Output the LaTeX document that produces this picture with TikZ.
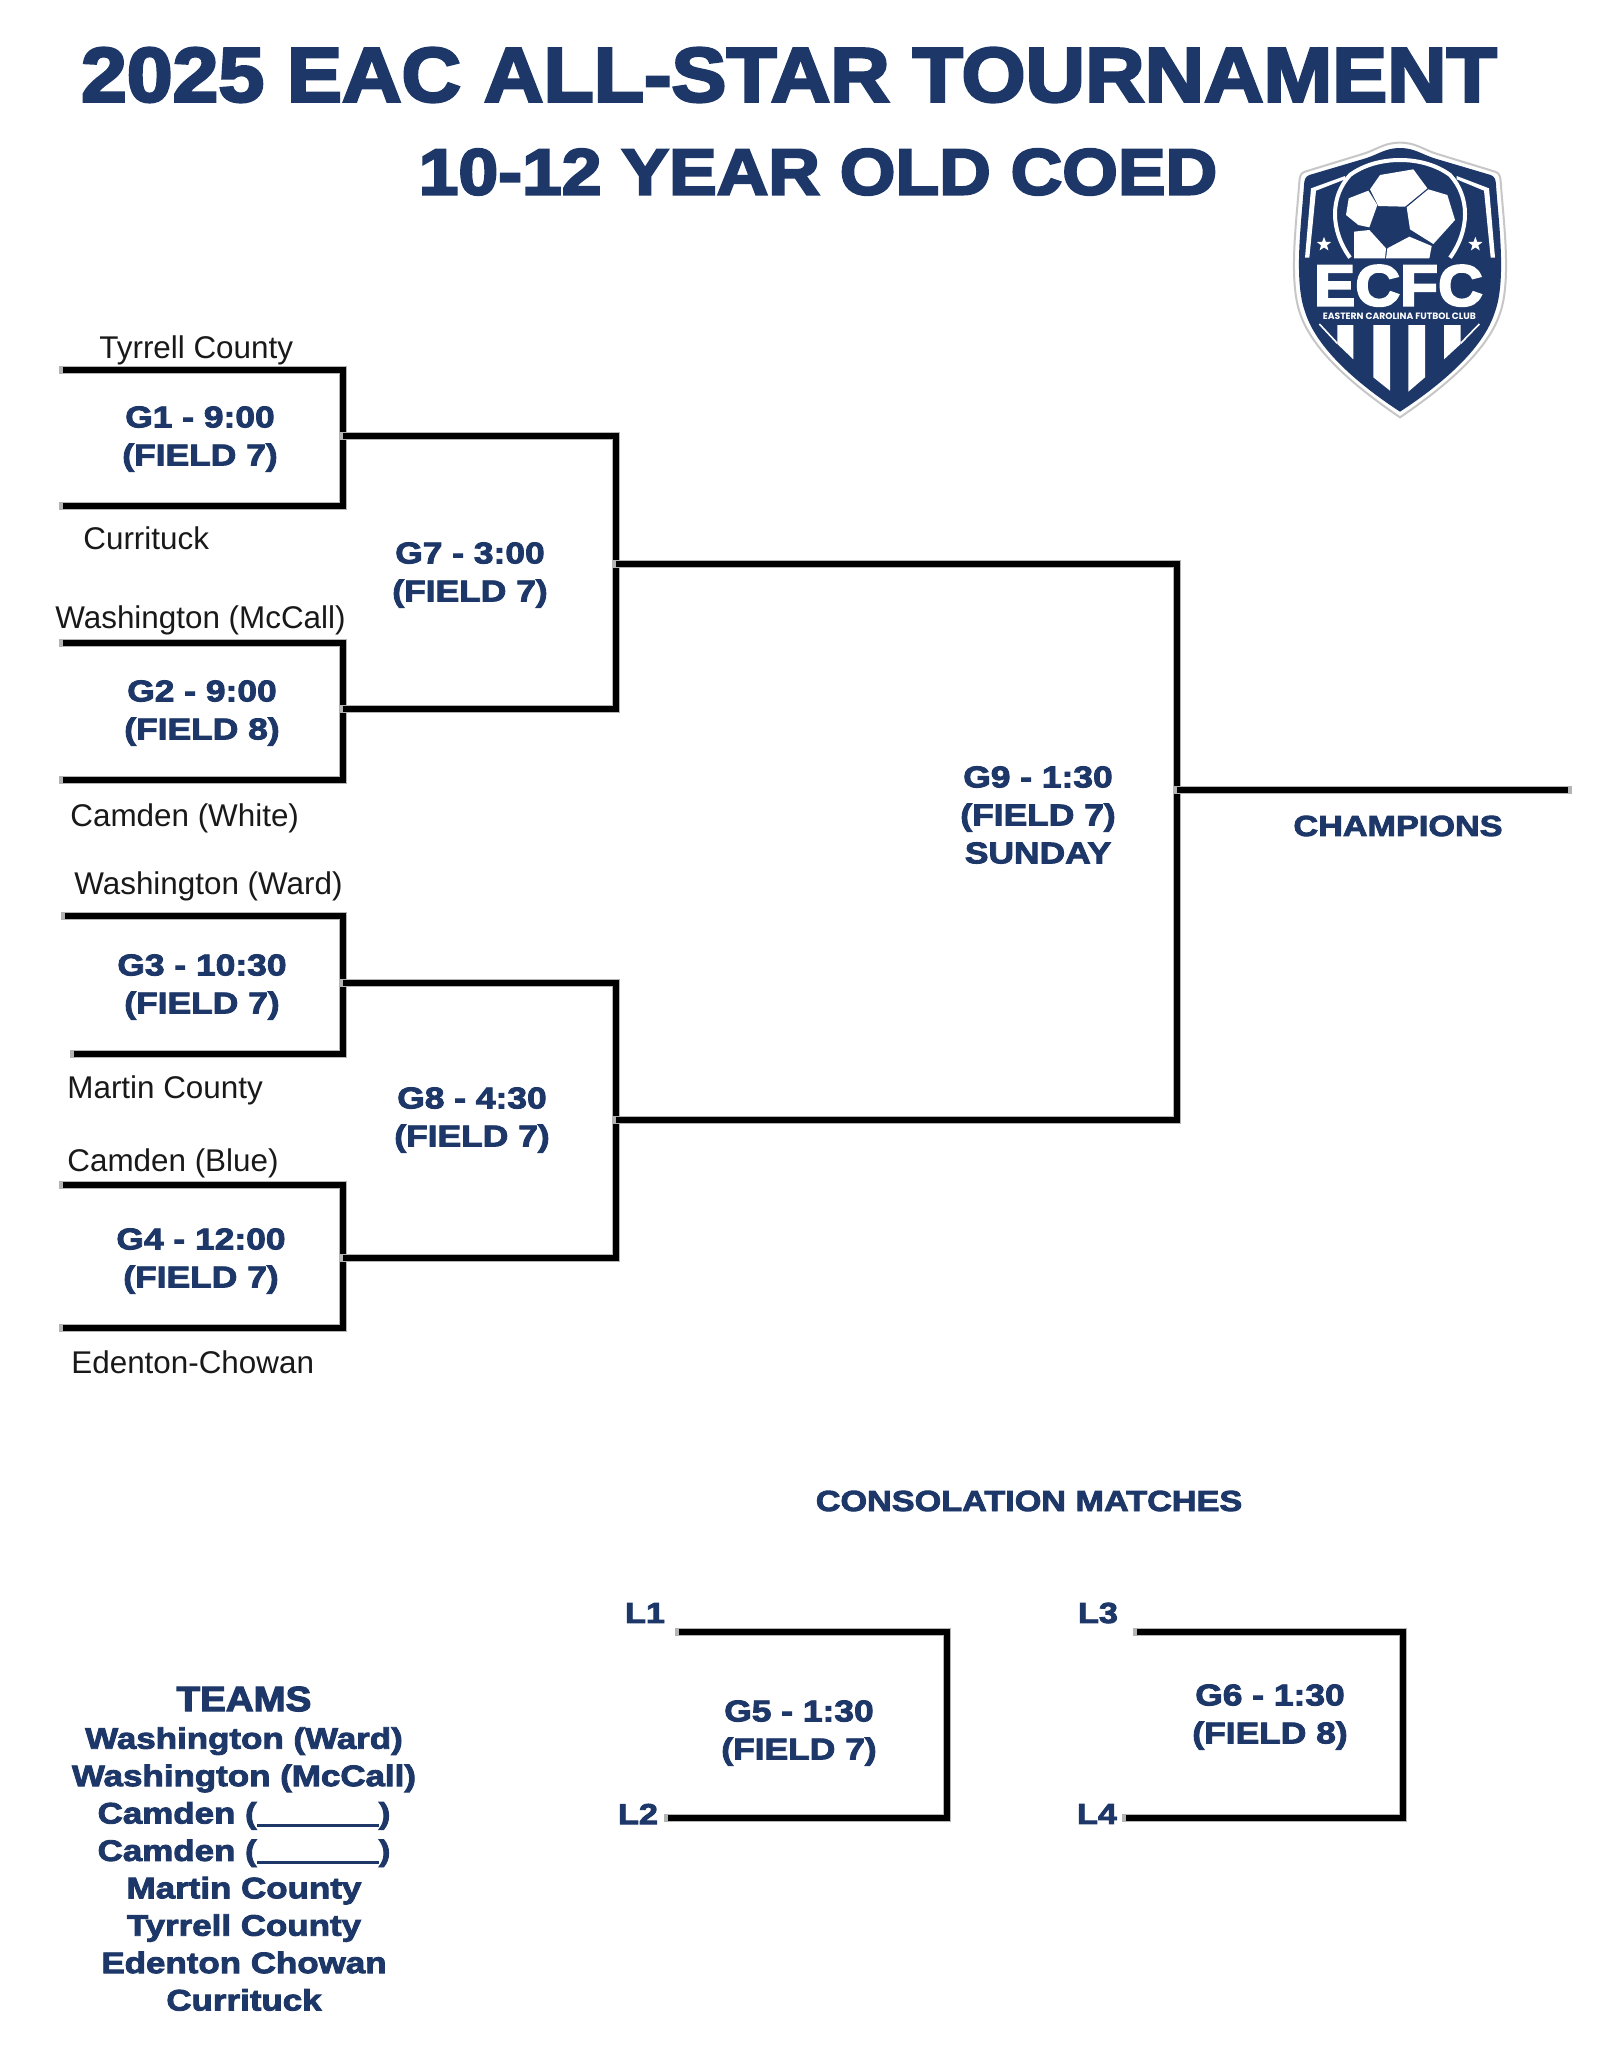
\documentclass[tikz,border=0pt]{standalone}
\usepackage{fontspec}
\setmainfont{Liberation Sans}
\usetikzlibrary{calc,shapes.geometric}
\newfontfamily\heavyfont[BoldFeatures={FakeBold=3,FakeStretch=1.18}]{Liberation Sans}
\newfontfamily\titlefont[BoldFeatures={FakeBold=3.5,FakeStretch=1.07}]{Liberation Sans}
\newfontfamily\subfont[BoldFeatures={FakeBold=3.5,FakeStretch=1.1}]{Liberation Sans}
\newfontfamily\crestfont{Poppins}
\definecolor{navy}{HTML}{1C3768}
\definecolor{halo}{HTML}{B4B4B4}
\newcommand{\heavy}[2]{\heavyfont\bfseries\fontsize{#1}{#2}\selectfont}
\newcommand{\blank}{\rule[-1.6pt]{61pt}{1.6pt}}

\begin{document}
\begin{tikzpicture}[x=.5pt,y=-.5pt,
  bracketline/.style={black,line width=2.7pt,line join=miter,
    preaction={draw=halo,line width=4.2pt,line cap=rect}},
  gamelabel/.style={text=navy,align=center,font=\heavy{15}{19},inner sep=0pt},
  teamlabel/.style={text=black!90,anchor=west,font=\fontsize{15.7}{18}\selectfont,inner sep=0pt},
  feedlabel/.style={text=navy,font=\heavy{14.5}{18},inner sep=0pt}]
  \useasboundingbox (0,0) rectangle (1600,2071);
  \fill[white] (0,0) rectangle (1600,2071);

  \node[text=navy,font=\titlefont\bfseries\fontsize{38.5}{40}\selectfont,inner sep=0pt] (title) at (789,75)
    {2025 EAC ALL-STAR TOURNAMENT};
  \node[text=navy,font=\subfont\bfseries\fontsize{32.5}{34}\selectfont,inner sep=0pt] (subtitle) at (818,172)
    {10-12 YEAR OLD COED};

  % first round, name/top/bottom/middle/left ends
  \foreach \nm/\ya/\yb/\ym/\xa/\xb in {g1/370/506/436/63/63,g2/643/780/709/63/63,
      g3/916/1054/983/65/74,g4/1185/1328/1258/63/63}{
    \coordinate (\nm tl) at (\xa,\ya);
    \coordinate (\nm bl) at (\xb,\yb);
    \coordinate (\nm r) at (343,\ym);
    \draw[bracketline] (\nm tl) -| (\nm bl -| \nm r) -- (\nm bl);
  }

  % second round
  \coordinate (g7x) at (616,564);
  \coordinate (g8x) at (616,1120);
  \coordinate (g9x) at (1177,790);
  \coordinate (champ) at (1568,790);
  \draw[bracketline] (g1r) -- (g1r -| g7x) -- (g2r -| g7x) -- (g2r);
  \draw[bracketline] (g3r) -- (g3r -| g8x) -- (g4r -| g8x) -- (g4r);
  \draw[bracketline] (g7x) -- (g7x -| g9x) -- (g8x -| g9x) -- (g8x);
  \draw[bracketline] (g9x) -- (champ);

  % consolation
  \foreach \nm/\xa/\xb/\xr in {g5/679/668/947,g6/1137/1126/1403}{
    \coordinate (\nm tl) at (\xa,1632);
    \coordinate (\nm bl) at (\xb,1818);
    \coordinate (\nm r) at (\xr,1632);
    \draw[bracketline] (\nm tl) -- (\nm r) |- (\nm bl);
  }

  \foreach \nm/\x/\y/\lab in {g1/200/439/G1 - 9:00\\(FIELD 7),
      g2/202/713/G2 - 9:00\\(FIELD 8),
      g3/202/987/G3 - 10:30\\(FIELD 7),
      g4/201/1261/G4 - 12:00\\(FIELD 7),
      g7/470/575/G7 - 3:00\\(FIELD 7),
      g8/472/1120/G8 - 4:30\\(FIELD 7),
      g9/1038/815/G9 - 1:30\\(FIELD 7)\\SUNDAY,
      g5/799/1733/G5 - 1:30\\(FIELD 7),
      g6/1270/1717/G6 - 1:30\\(FIELD 8)}{
    \node[gamelabel] (\nm) at (\x,\y) {\lab};
  }

  \foreach \nm/\x/\y/\lab in {tyrrell/99/350.5/Tyrrell County,
      currituck/83/538/Currituck,
      mccall/55/620.5/Washington (McCall),
      white/70/818.5/Camden (White),
      ward/74/886.5/Washington (Ward),
      martin/67/1090.5/Martin County,
      blue/67/1163.5/Camden (Blue),
      edenton/71/1362/Edenton-Chowan}{
    \node[teamlabel] (\nm) at (\x,\y) {\lab};
  }

  \node[feedlabel] (champions) at (1398,826) {CHAMPIONS};
  \node[feedlabel] (consolation) at (1029,1501) {CONSOLATION MATCHES};
  \foreach \nm/\x/\y in {L1/645/1613,L2/638/1814,L3/1098/1613,L4/1097/1814}{
    \node[feedlabel] (\nm) at (\x,\y) {\nm};
  }

  % team list
  \node[text=navy,font=\subfont\bfseries\fontsize{17.5}{20}\selectfont,inner sep=0pt] (teams) at (244,1699) {TEAMS};
  \node[gamelabel,font=\heavy{14.8}{18.7}] (teamlist) at (244,1869)
    {Washington (Ward)\\Washington (McCall)\\Camden (\blank)\\
     Camden (\blank)\\Martin County\\Tyrrell County\\
     Edenton Chowan\\Currituck};

  % crest, in thirds of a pixel
  \begin{scope}[shift={(1250,120)},x=.16667pt,y=-.16667pt]
    \filldraw[fill=white,draw=black!22,line width=1pt]
      (450,68) .. controls (400,68) and (380,90) .. (335,103) -- (165,155)
      .. controls (150,160) and (150,170) .. (148,185)
      .. controls (140,300) and (115,480) .. (150,580)
      .. controls (190,700) and (330,810) .. (450,892)
      .. controls (570,810) and (710,700) .. (750,580)
      .. controls (785,480) and (760,300) .. (752,185)
      .. controls (750,170) and (750,160) .. (735,155) -- (565,103)
      .. controls (520,90) and (500,68) .. (450,68) -- cycle;
    \fill[navy]
      (450,84) .. controls (405,84) and (385,104) .. (340,117) -- (178,165)
      .. controls (165,170) and (163,180) .. (162,195)
      .. controls (155,300) and (130,480) .. (165,575)
      .. controls (200,690) and (335,800) .. (450,875)
      .. controls (565,800) and (700,690) .. (735,575)
      .. controls (770,480) and (745,300) .. (738,195)
      .. controls (737,180) and (735,170) .. (722,165) -- (560,117)
      .. controls (515,104) and (495,84) .. (450,84) -- cycle;
    % side bars
    \fill[white] (165,413) -- (183,205) -- (285,168) -- (285,178) -- (198,212) -- (178,413) -- cycle;
    \fill[white] (735,413) -- (717,205) -- (620,168) -- (620,178) -- (702,212) -- (722,413) -- cycle;
    % ring
    \draw[white,line width=2pt] (300,413) .. controls (240,330) and (240,230) .. (300,165)
      .. controls (380,105) and (520,105) .. (600,165)
      .. controls (660,230) and (660,330) .. (600,413);
    % ball panels
    \fill[white] (360,208) -- (390,165) -- (490,148) -- (532,205) -- (465,260) -- (385,258) -- cycle;
    \fill[white] (296,235) -- (355,212) -- (382,255) -- (358,322) -- (325,315) -- (288,285) -- cycle;
    \fill[white] (535,208) -- (592,225) -- (615,300) -- (550,372) -- (480,328) -- (470,262) -- cycle;
    \fill[white] (312,335) -- (358,330) -- (408,385) -- (405,415) -- (312,415) -- cycle;
    \fill[white] (412,385) -- (478,350) -- (545,378) -- (538,415) -- (408,415) -- cycle;
    \node[star,star points=5,star point ratio=2.4,fill=white,inner sep=0pt,minimum size=7.5pt] (starl) at (222,373) {};
    \node[star,star points=5,star point ratio=2.4,fill=white,inner sep=0pt,minimum size=7.5pt] (starr) at (676,373) {};
    \node[text=white,font=\titlefont\bfseries\fontsize{29}{30}\selectfont,inner sep=0pt] (ecfc) at (445,497) {ECFC};
    \node[text=white,font=\crestfont\bfseries\fontsize{4.6}{5}\selectfont,inner sep=0pt] (clubname) at (448,588)
      {EASTERN CAROLINA FUTBOL CLUB};
    % stripes
    \foreach \xa/\xb/\ya/\yb in {262/310/672/718,370/420/772/812,475/525/815/772,582/632/718/672}{
      \fill[white] (\xa,615) -- (\xb,615) -- (\xb,\yb) -- (\xa,\ya) -- cycle;
    }
    \draw[white,line width=.8pt] (208,612) -- (262,670);
    \draw[white,line width=.8pt] (688,612) -- (632,670);
  \end{scope}
\end{tikzpicture}
\end{document}
